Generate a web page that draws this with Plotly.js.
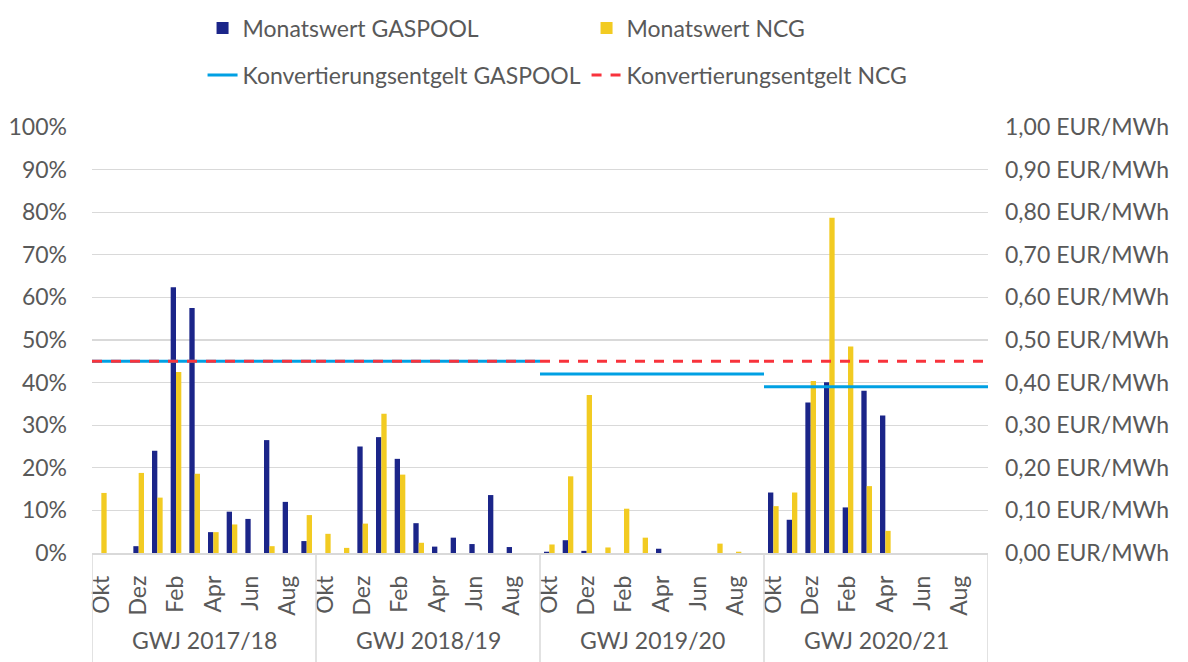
<!DOCTYPE html>
<html>
<head>
<meta charset="utf-8">
<script src="https://cdn.plot.ly/plotly-3.0.1.min.js"></script>
<style>
  html, body { margin: 0; padding: 0; background: #ffffff; }
  #chart { width: 1188px; height: 662px; }
</style>
</head>
<body>
<div id="chart"></div>
<script>
// ---- Data ----
const months = ['Okt', 'Nov', 'Dez', 'Jan', 'Feb', 'Mär', 'Apr', 'Mai', 'Jun', 'Jul', 'Aug', 'Sep'];
const gasYears = ['GWJ 2017/18', 'GWJ 2018/19', 'GWJ 2019/20', 'GWJ 2020/21'];

// Monatswert GASPOOL (%), one row per gas year Okt..Sep
const gaspool1718 = [0, 0, 1.6, 24.0, 62.4, 57.5, 4.9, 9.7, 8.0, 26.5, 12.0, 2.8];
const gaspool1819 = [0, 0, 25.0, 27.2, 22.1, 7.0, 1.5, 3.6, 2.1, 13.6, 1.4, 0];
const gaspool1920 = [0.3, 3.0, 0.5, 0, 0, 0, 1.0, 0, 0, 0, 0, 0];
const gaspool2021 = [14.2, 7.8, 35.3, 40.1, 10.7, 38.1, 32.3, null, null, null, null, null];

// Monatswert NCG (%)
const ncg1718 = [14.1, 0, 18.8, 13.0, 42.5, 18.6, 4.9, 6.7, 0, 1.6, 0, 8.9];
const ncg1819 = [4.5, 1.2, 6.9, 32.7, 18.4, 2.4, 0, 0, 0, 0, 0, 0];
const ncg1920 = [2.0, 18.0, 37.1, 1.3, 10.4, 3.6, 0, 0, 0, 2.2, 0.3, 0];
const ncg2021 = [11.0, 14.2, 40.4, 78.7, 48.5, 15.7, 5.2, null, null, null, null, null];

// Konvertierungsentgelt (EUR/MWh) per gas year
const feeGaspool = [0.45, 0.45, 0.42, 0.39];
const feeNcg = [0.45, 0.45, 0.45, 0.45];

// ---- Build ----
const gaspoolVals = [].concat(gaspool1718, gaspool1819, gaspool1920, gaspool2021);
const ncgVals = [].concat(ncg1718, ncg1819, ncg1920, ncg2021);
const nM = months.length;
const xIdx = gaspoolVals.map((_, i) => i);

function feeSegments(fees) {
  const xs = [], ys = [];
  fees.forEach((f, g) => {
    xs.push(g * nM - 0.5, g * nM + nM - 0.5, null);
    ys.push(f, f, null);
  });
  return { xs, ys };
}
const segG = feeSegments(feeGaspool);
const segN = feeSegments(feeNcg);

const tickVals = xIdx.filter(i => i % 2 === 0);
const tickText = tickVals.map(i => months[i % nM]);

const FONT = 'Lato, "Open Sans", sans-serif';
const FS = 23;
const TXT = '#595959';
const GRID = '#d9d9d9';

const traces = [
  { type: 'bar', name: 'Monatswert GASPOOL', x: xIdx, y: gaspoolVals,
    marker: { color: '#1b2589' }, legend: 'legend' },
  { type: 'bar', name: 'Monatswert NCG', x: xIdx, y: ncgVals,
    marker: { color: '#f2cb22' }, legend: 'legend' },
  { type: 'scatter', mode: 'lines', name: 'Konvertierungsentgelt GASPOOL',
    x: segG.xs, y: segG.ys, yaxis: 'y2', connectgaps: false,
    line: { color: '#00a0e3', width: 3 }, legend: 'legend2' },
  { type: 'scatter', mode: 'lines', name: 'Konvertierungsentgelt NCG',
    x: segN.xs, y: segN.ys, yaxis: 'y2', connectgaps: false,
    line: { color: '#f8333c', width: 3, dash: '10px,9px' }, legend: 'legend2' }
];

const shapes = [];
for (let g = 0; g <= gasYears.length; g++) {
  shapes.push({ type: 'line', xref: 'x', yref: 'paper',
    x0: g * nM - 0.5, x1: g * nM - 0.5, y0: 0, y1: -0.256,
    line: { color: GRID, width: 1.5 } });
}
const annotations = gasYears.map((t, g) => ({
  text: t, xref: 'x', yref: 'paper', x: g * nM + (nM - 1) / 2, y: -0.205,
  xanchor: 'center', yanchor: 'middle', showarrow: false,
  font: { family: FONT, size: FS, color: TXT }
}));

const legendCommon = {
  orientation: 'h', xref: 'container', yref: 'container',
  xanchor: 'left', yanchor: 'middle', entrywidth: 339, entrywidthmode: 'pixels',
  font: { family: FONT, size: FS, color: TXT }, bgcolor: 'rgba(0,0,0,0)',
  itemwidth: 30, traceorder: 'normal'
};

const layout = {
  width: 1188, height: 662,
  margin: { l: 92, r: 200, t: 127, b: 109 },
  paper_bgcolor: '#ffffff', plot_bgcolor: '#ffffff',
  separators: ',.',
  font: { family: FONT, size: FS, color: TXT },
  barmode: 'group', bargap: 0.43, bargroupgap: 0,
  showlegend: true,
  legend: Object.assign({}, legendCommon, { x: 0.1705, y: 1 - 28 / 662 }),
  legend2: Object.assign({}, legendCommon, { x: 0.1705, y: 1 - 75 / 662 }),
  xaxis: {
    range: [-0.5, xIdx.length - 0.5], tickmode: 'array', tickvals: tickVals, ticktext: tickText,
    tickangle: -90, ticks: '', showgrid: false, zeroline: false,
    showline: true, linecolor: GRID, linewidth: 1.5, ticklabelstandoff: 12,
    tickfont: { family: FONT, size: FS, color: TXT }
  },
  yaxis: {
    range: [0, 100], dtick: 10, ticksuffix: '%', ticks: '',
    showgrid: true, gridcolor: GRID, gridwidth: 1.3, zeroline: false,
    ticklabelstandoff: 24, tickfont: { family: FONT, size: FS, color: TXT }
  },
  yaxis2: {
    overlaying: 'y', side: 'right', range: [0, 1], dtick: 0.1, tickformat: '.2f',
    ticksuffix: ' EUR/MWh', ticks: '', showgrid: false, zeroline: false,
    ticklabelstandoff: 16, tickfont: { family: FONT, size: FS, color: TXT }
  },
  shapes: shapes,
  annotations: annotations
};

Plotly.newPlot('chart', traces, layout, { staticPlot: true, displayModeBar: false });
</script>
</body>
</html>
